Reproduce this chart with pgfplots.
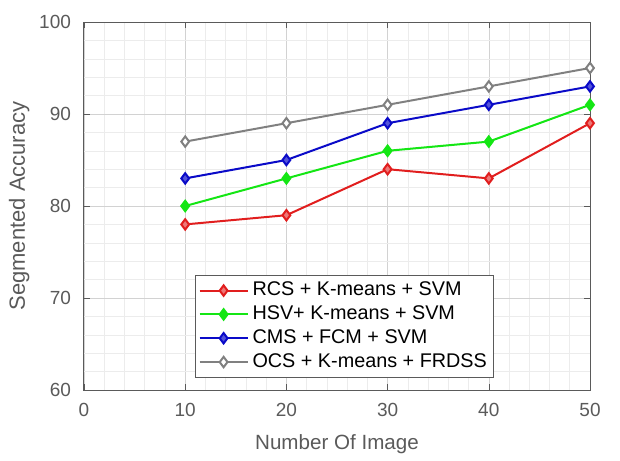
\documentclass[border=0pt]{standalone}
\usepackage{pgfplots}
\pgfplotsset{compat=1.18}
\usepackage{fontspec}
\setmainfont{Liberation Sans}

\definecolor{cred}{RGB}{225,30,30}
\definecolor{cgreen}{RGB}{20,230,20}
\definecolor{cblue}{RGB}{10,10,200}
\definecolor{cgrey}{RGB}{128,128,128}
\definecolor{axgrey}{RGB}{90,90,90}

\begin{document}
\begin{tikzpicture}
\begin{axis}[
    scale only axis,
    width=253pt, height=184pt,
    xmin=0, xmax=50, ymin=60, ymax=100,
    xtick={0,10,...,50}, ytick={60,70,...,100},
    minor x tick num=4, minor y tick num=4,
    grid=both,
    major grid style={draw=gray!35, line width=0.3pt},
    minor grid style={draw=gray!15, line width=0.3pt},
    tick align=inside,
    major tick length=3pt, minor tick length=0pt,
    axis line style={draw=axgrey, line width=0.5pt},
    tick style={draw=axgrey},
    ticklabel style={font=\fontsize{9.5}{11}\selectfont, text=axgrey},
    xticklabel style={yshift=-3pt},
    yticklabel style={xshift=-3pt},
    /pgf/number format/assume math mode=true,
    xlabel={Number Of Image}, ylabel={Segmented Accuracy},
    xlabel style={font=\fontsize{10.3}{12}\selectfont, text=axgrey, yshift=-2pt},
    ylabel style={font=\fontsize{11}{13}\selectfont, text=axgrey, yshift=-2pt},
    legend style={at={(0.22,0.033)}, anchor=south west,
        font=\fontsize{9.9}{11}\selectfont, draw=axgrey, fill=white,
        row sep=-0.5pt, inner sep=1.5pt, cells={anchor=west}},
    legend image code/.code={
        \draw[mark repeat=2,mark phase=2] plot coordinates {(0cm,0cm) (0.42cm,0cm) (0.84cm,0cm)};},
    every axis plot/.append style={line width=1pt, mark=diamond*, mark size=2.6pt},
]
\addplot[color=cred, mark options={fill=cred!60}] coordinates {(10,78) (20,79) (30,84) (40,83) (50,89)};
\addlegendentry{RCS + K-means + SVM}
\addplot[color=cgreen, mark options={fill=cgreen}] coordinates {(10,80) (20,83) (30,86) (40,87) (50,91)};
\addlegendentry{HSV+ K-means + SVM}
\addplot[color=cblue, mark options={fill=cblue!70}] coordinates {(10,83) (20,85) (30,89) (40,91) (50,93)};
\addlegendentry{CMS + FCM + SVM}
\addplot[color=cgrey, mark options={fill=white}] coordinates {(10,87) (20,89) (30,91) (40,93) (50,95)};
\addlegendentry{OCS + K-means + FRDSS}
\end{axis}
\path (-42pt,-31pt) rectangle (268pt,195pt);
\end{tikzpicture}
\end{document}
